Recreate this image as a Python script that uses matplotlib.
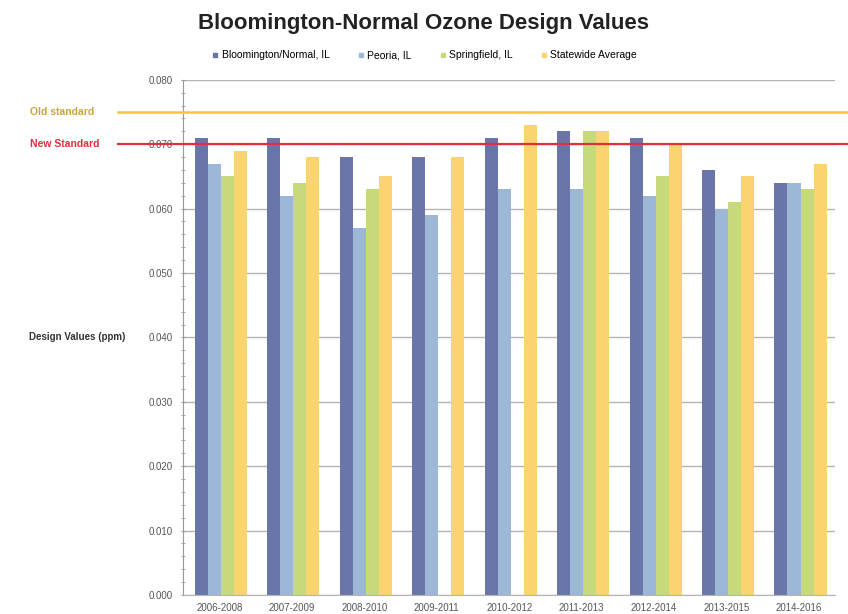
import numpy as np
import matplotlib
matplotlib.use("Agg")
import matplotlib.pyplot as plt
from matplotlib.ticker import MultipleLocator

plt.rcParams["font.family"] = ["Liberation Sans", "DejaVu Sans"]

# Chart data (ppm)
periods = ["2006-2008", "2007-2009", "2008-2010", "2009-2011", "2010-2012",
           "2011-2013", "2012-2014", "2013-2015", "2014-2016"]
series_names = ["Bloomington/Normal, IL", "Peoria, IL", "Springfield, IL", "Statewide Average"]
bloomington = [0.071, 0.071, 0.068, 0.068, 0.071, 0.072, 0.071, 0.066, 0.064]
peoria = [0.067, 0.062, 0.057, 0.059, 0.063, 0.063, 0.062, 0.060, 0.064]
springfield = [0.065, 0.064, 0.063, np.nan, np.nan, 0.072, 0.065, 0.061, 0.063]
statewide = [0.069, 0.068, 0.065, 0.068, 0.073, 0.072, 0.070, 0.065, 0.067]
old_standard = 0.075
new_standard = 0.070

colors = ["#6B76A8", "#9DB8D6", "#C6DA7C", "#FAD46F"]

fig = plt.figure(figsize=(8.48, 6.14), dpi=100)
ax = fig.add_axes([0.216, 0.031, 0.769, 0.839])

x = np.arange(len(periods))
bar_w = 0.18
all_series = [bloomington, peoria, springfield, statewide]
for i, (vals, name, c) in enumerate(zip(all_series, series_names, colors)):
    ax.bar(x + (i - 1.5) * bar_w + 0.02, vals, width=bar_w, color=c, label=name, zorder=2)

ax.set_xlim(-0.5, len(periods) - 0.5)
ax.set_ylim(0, 0.080)
ax.yaxis.set_major_locator(MultipleLocator(0.010))
ax.yaxis.set_minor_locator(MultipleLocator(0.002))
ax.set_yticklabels([f"{v:.3f}" for v in ax.get_yticks()])
ax.set_xticks(x)
ax.set_xticklabels(periods)
ax.tick_params(axis="both", labelsize=7, colors="#555555", length=0, pad=6)
ax.tick_params(axis="y", which="both", length=3, direction="inout", color="#999999")
ax.grid(axis="y", color="#B5B5B5", linewidth=1, zorder=0)

for side in ["top", "right"]:
    ax.spines[side].set_visible(False)
ax.spines["left"].set_color("#999999")
ax.spines["bottom"].set_color("#B5B5B5")

# standards lines reaching out past the axis
ax.axhline(old_standard, xmin=-0.10, xmax=1.03, color="#F6C445", linewidth=1.8,
           clip_on=False, zorder=3)
ax.axhline(new_standard, xmin=-0.10, xmax=1.03, color="#E0303E", linewidth=1.6,
           clip_on=False, zorder=3)
ax.text(-0.235, old_standard, "Old standard", transform=ax.get_yaxis_transform(),
        color="#C9A63C", fontsize=7.5, fontweight="bold", va="center", ha="left")
ax.text(-0.235, new_standard, "New Standard", transform=ax.get_yaxis_transform(),
        color="#E0303E", fontsize=7.5, fontweight="bold", va="center", ha="left")

ax.text(-0.089, 0.040, "Design Values (ppm)", transform=ax.get_yaxis_transform(),
        fontsize=7, fontweight="bold", color="#333333", va="center", ha="right")

fig.text(0.5, 0.962, "Bloomington-Normal Ozone Design Values", ha="center", va="center",
         fontsize=16, fontweight="bold", color="#222222")

handles = [plt.Line2D([], [], marker="s", linestyle="none", color=c, markersize=3)
           for c in colors]
fig.legend(handles, series_names, loc="center", bbox_to_anchor=(0.5, 0.91), ncol=4,
           frameon=False, fontsize=7.5, handletextpad=0.2, columnspacing=2.6,
           handlelength=0.8)

fig.savefig("out.png", dpi=100)
